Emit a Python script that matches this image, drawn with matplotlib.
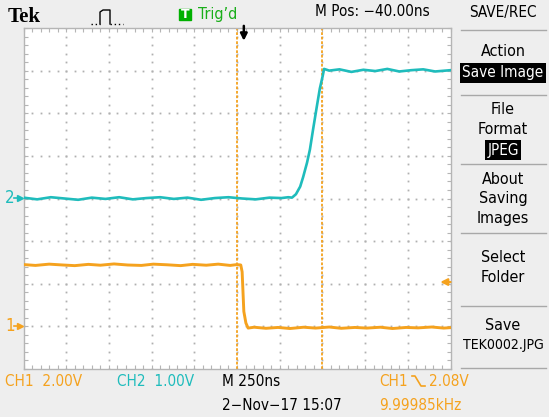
import numpy as np
import matplotlib.pyplot as plt
from matplotlib import font_manager
from matplotlib.font_manager import FontProperties
from matplotlib.lines import Line2D
from matplotlib.patches import Rectangle

# scope settings
ch1_scale = 2.0      # V/div
ch2_scale = 1.0      # V/div
ch1_ground = -3.0    # div
ch2_ground = 0.0     # div
time_scale = 250     # ns/div
trig_level = 2.08    # V on CH1
trig_time = 40       # ns right of centre
cursor_times = [0, 500]

# CH1 (orange) falling edge, time in ns from screen centre, volts
ch1_t = [-1250, -1180, -1100, -1020, -950, -870, -800, -720, -640, -560,
         -490, -410, -330, -260, -180, -110, -40, 0, 22, 30,
         40, 52, 65, 100, 170, 240, 310, 390, 460, 540,
         610, 690, 760, 840, 910, 990, 1060, 1140, 1210, 1250]
ch1_v = [2.90, 2.86, 2.92, 2.88, 2.85, 2.91, 2.87, 2.93, 2.88, 2.86,
         2.92, 2.89, 2.85, 2.91, 2.87, 2.92, 2.86, 2.90, 2.88, 2.56,
         0.70, 0.16, -0.08, -0.04, -0.09, -0.05, -0.10, -0.04, -0.08, -0.03,
         -0.09, -0.05, -0.08, -0.04, -0.10, -0.05, -0.07, -0.03, -0.08, -0.06]

# CH2 (cyan) rising edge
ch2_t = [-1250, -1170, -1090, -1010, -930, -850, -770, -690, -610, -530,
         -450, -370, -290, -210, -130, -50, 30, 110, 190, 260,
         300, 322, 345, 370, 387, 410, 427, 445, 467, 485,
         502, 510, 540, 600, 670, 740, 810, 880, 950, 1020,
         1090, 1160, 1250]
ch2_v = [0.02, -0.02, 0.03, 0.00, -0.03, 0.02, -0.01, 0.03, -0.02, 0.01,
         0.03, -0.01, 0.02, -0.03, 0.01, 0.03, 0.00, -0.02, 0.02, 0.01,
         0.03, 0.02, 0.10, 0.28, 0.50, 0.84, 1.15, 1.61, 2.15, 2.58,
         2.88, 3.04, 3.00, 3.03, 2.97, 3.02, 2.99, 3.04, 2.98, 3.01,
         3.03, 2.98, 3.01]

menu_items = [("Action", 51), ("File", 110), ("Format", 130), ("About", 180),
              ("Saving", 199), ("Images", 219), ("Select", 257), ("Folder", 277),
              ("Save", 326), ("TEK0002.JPG", 345)]
menu_boxes = [("Save Image", 73), ("JPEG", 150)]
menu_lines = [30, 95, 164, 233, 306, 368]

ORANGE = "#f5a21e"
CYAN = "#1fbcbc"
GREEN = "#1aae1a"
BG = "#eeeeee"

# the scope font is condensed: prefer Liberation Sans Narrow, then DejaVu Sans Condensed
narrow, BASE = None, 10.0
for want, size in [("Liberation Sans Narrow", 12.5), ("DejaVu Sans", 11.0)]:
    for f in font_manager.fontManager.ttflist:
        if f.name != want or f.style != "normal" or f.weight not in (400, "normal", "regular"):
            continue
        if want == "DejaVu Sans" and "ondensed" not in f.fname:
            continue
        narrow, BASE = f.fname, size
        break
    if narrow:
        break

W, H = 549, 417
fig = plt.figure(figsize=(W / 100, H / 100), dpi=100, facecolor=BG)


def fx(px):
    return px / W


def fy(py):
    return 1 - py / H


def txt(px, py, s, size=1.0, **kw):
    kw.setdefault("va", "center")
    if "family" not in kw:
        if narrow:
            kw["fontproperties"] = FontProperties(fname=narrow, size=BASE * size)
        else:
            kw["family"] = "Liberation Sans"
            kw["fontsize"] = BASE * size
    fig.text(fx(px), fy(py), s, **kw)


# graticule
L, R, T, B = 23.5, 450.5, 28, 369
ax = fig.add_axes([fx(L), fy(B), (R - L) / W, (B - T) / H])
ax.set_facecolor("white")
ax.set_xlim(-5 * time_scale, 5 * time_scale)
ax.set_ylim(-4, 4)
ax.set_xticks(np.arange(-5, 6) * time_scale)
ax.set_xticks(np.arange(-25, 26) * time_scale / 5, minor=True)
ax.set_yticks(np.arange(-4, 5))
ax.set_yticks(np.arange(-20, 21) / 5, minor=True)
ax.tick_params(which="both", direction="in", top=True, right=True,
               length=3, width=0.8, color="#b5b5b5",
               labelbottom=False, labelleft=False)
for s in ax.spines.values():
    s.set_color("#b5b5b5")
    s.set_linewidth(1)

dot = dict(ls="none", marker="s", ms=1.3, mew=0, color="#b0b0b0", zorder=1)
minor_y = np.arange(-20, 21) / 5
minor_x = np.arange(-25, 26) * time_scale / 5
for k in range(-4, 5):
    ax.plot(np.full_like(minor_y, k * time_scale), minor_y, **dot)
for k in range(-3, 4):
    ax.plot(minor_x, np.full_like(minor_x, k), **dot)

for c in cursor_times:
    ax.axvline(c, color=ORANGE, lw=1.3, ls=(0, (1.5, 1)), zorder=2)

ax.plot(ch2_t, np.array(ch2_v) / ch2_scale + ch2_ground, color=CYAN, lw=1.9, zorder=3)
ax.plot(ch1_t, np.array(ch1_v) / ch1_scale + ch1_ground, color=ORANGE, lw=2.1, zorder=3)

# trigger position arrow and trigger level marker
ax.annotate("", xy=(trig_time, 3.7), xytext=(trig_time, 4.05),
            arrowprops=dict(arrowstyle="-|>", color="black", lw=1.8, mutation_scale=10,
                            shrinkA=0, shrinkB=0),
            annotation_clip=False)
lvl = trig_level / ch1_scale + ch1_ground
ax.annotate("", xy=(4.76 * time_scale, lvl), xytext=(5.0 * time_scale, lvl),
            arrowprops=dict(arrowstyle="-|>", color=ORANGE, lw=1.6, mutation_scale=10,
                            shrinkA=0, shrinkB=0),
            annotation_clip=False)

# channel ground markers
for lab, g, col in [("2", ch2_ground, CYAN), ("1", ch1_ground, ORANGE)]:
    py = B - (g + 4) * (B - T) / 8
    txt(5, py, lab, size=1.1, color=col)
    fig.add_artist(Line2D([fx(14), fx(20)], [fy(py), fy(py)], color=col, lw=1.2))
    fig.add_artist(Line2D([fx(20)], [fy(py)], marker=">", ms=4, color=col, ls="none"))

# top bar
txt(8, 17, "Tek", family="Liberation Serif", fontweight="bold", fontsize=15)
pulse_x = [100, 100, 103, 110, 110]
pulse_y = [24, 12, 10, 10, 24]
fig.add_artist(Line2D([fx(91), fx(100)], [fy(24), fy(24)], color="k", lw=1, ls=(0, (1, 2))))
fig.add_artist(Line2D([fx(v) for v in pulse_x], [fy(v) for v in pulse_y], color="k", lw=1))
fig.add_artist(Line2D([fx(110), fx(123)], [fy(24), fy(24)], color="k", lw=1, ls=(0, (1, 2))))
fig.add_artist(Rectangle((fx(179), fy(20)), 12 / W, 11 / H, color="#00b000", transform=fig.transFigure))
txt(185, 14.5, "T", color="white", fontsize=9, ha="center", fontweight="bold", family="DejaVu Sans")
txt(198, 14, "Trig\u2019d", size=1.05, color=GREEN)
txt(430, 12, "M Pos: \u221240.00ns", size=1.0, ha="right")

# right menu
MX = 503
txt(MX, 13, "SAVE/REC", ha="center")
for py in menu_lines:
    fig.add_artist(Line2D([fx(461), fx(546)], [fy(py), fy(py)], color="#a8a8a8", lw=1))
for s, py in menu_items:
    txt(MX, py, s, size=0.92 if len(s) > 8 else 1.05, ha="center")
for s, py in menu_boxes:
    txt(MX, py, s, size=1.0, ha="center", color="white",
        bbox=dict(boxstyle="square,pad=0.15", fc="black", ec="none"))

# bottom readouts
txt(5, 381, "CH1  2.00V", color=ORANGE)
txt(117, 381, "CH2  1.00V", color=CYAN)
txt(222, 381, "M 250ns")
txt(379, 381, "CH1", color=ORANGE)
edge_x = [412, 415, 421, 425]
edge_y = [376, 376, 386, 386]
fig.add_artist(Line2D([fx(v) for v in edge_x], [fy(v) for v in edge_y], color=ORANGE, lw=1.2))
txt(429, 381, "2.08V", color=ORANGE)
txt(222, 405, "2\u2212Nov\u221217 15:07")
txt(379, 405, "9.99985kHz", color=ORANGE)

fig.savefig("out.png", dpi=100, facecolor=BG)
